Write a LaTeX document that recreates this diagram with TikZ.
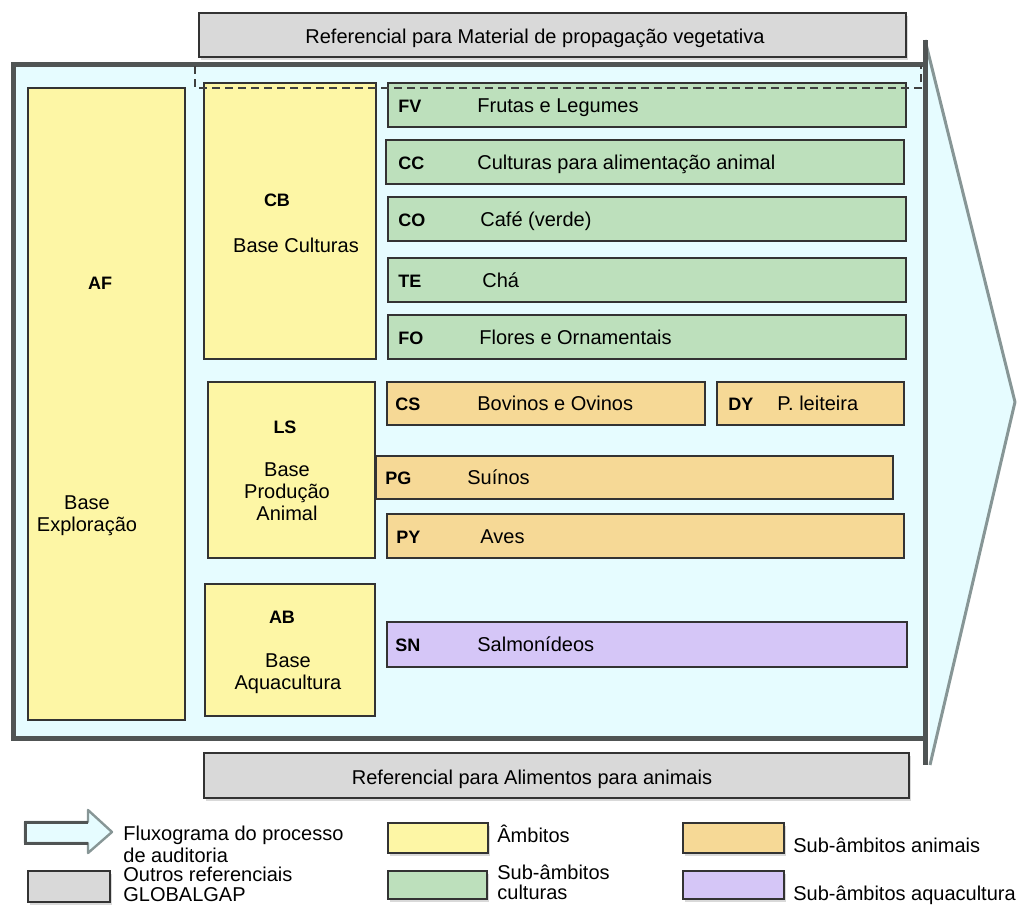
\documentclass[tikz,border=0pt]{standalone}
\usepackage{fontspec}
\setmainfont{Liberation Sans}
\usetikzlibrary{positioning,shadows}
\definecolor{bgc}{RGB}{230,252,255}
\definecolor{ylw}{RGB}{253,246,165}
\definecolor{grn}{RGB}{189,224,188}
\definecolor{org}{RGB}{246,217,150}
\definecolor{prp}{RGB}{213,198,247}
\definecolor{gry}{RGB}{217,217,217}
\definecolor{frm}{RGB}{80,84,84}
\definecolor{hdc}{RGB}{135,150,150}

\begin{document}
\begin{tikzpicture}[x=0.5pt, y=-0.5pt,
  font=\fontsize{10}{11}\selectfont,
  box/.style={draw=black!80, line width=0.7pt, inner sep=0pt},
  shd/.style={drop shadow={opacity=0.3, shadow xshift=1pt, shadow yshift=-1.5pt}},
  amb/.style={box, fill=ylw},
  sub/.style={box, minimum width=259pt, minimum height=22pt},
  ref/.style={box, shd, fill=gry, minimum height=22pt},
  leg/.style={box, shd, minimum width=50pt, minimum height=15pt},
  cod/.style={font=\fontsize{9}{10}\selectfont\bfseries, inner sep=0pt},
  lbl/.style={inner sep=0pt, align=center},
  lgt/.style={inner sep=0pt, align=left}]
\useasboundingbox (0,0) rectangle (1019,905);
% audit flow arrow
\draw[hdc, line width=1.5pt, fill=bgc, line join=round] (925,40) -- (1015,402) -- (930,765);
\node[draw=frm, line width=2.5pt, fill=bgc, minimum width=456pt, minimum height=337pt, shd] (frame) at (469,401) {};
\draw[frm, line width=2.5pt] (925,40) -- (925,765);
% other standards
\node[ref, minimum width=353.5pt] (pmv) at (552.5,35) {};
\node[lbl, anchor=base] (pmv-t) at (535,43) {Referencial para Material de propagação vegetativa};
\node[ref, minimum width=352.5pt, minimum height=22.5pt] (afa) at (556.5,775.5) {};
\node[lbl, anchor=base] (afa-t) at (532,784) {Referencial para Alimentos para animais};
% scopes
\node[amb, minimum width=78.5pt, minimum height=316pt] (AF) at (106.5,404) {};
\node[cod] (AF-c) at (100,283) {AF};
\node[lbl] (AF-t) at (87,516) {Base\\Exploração};
\node[amb, minimum width=86pt, minimum height=138pt] (CB) at (290,221) {};
\node[cod] (CB-c) at (277,200) {CB};
\node[lbl] (CB-t) at (296,245) {Base Culturas};
\node[amb, minimum width=83.5pt, minimum height=88pt] (LS) at (291.5,470) {};
\node[cod] (LS-c) at (285,427) {LS};
\node[lbl] (LS-t) at (287,492) {Base\\Produção\\Animal};
\node[amb, minimum width=85pt, minimum height=66pt] (AB) at (290,650) {};
\node[cod] (AB-c) at (282,617) {AB};
\node[lbl] (AB-t) at (288,674) {Base\\Aquacultura};
% crop sub-scopes
\foreach \c/\x/\y/\lx/\t in {FV/647/105/477/Frutas e Legumes, CC/645/162/477/Culturas para alimentação animal,
  CO/647/219/480/Café (verde), TE/647/280/482/Chá, FO/647/337/479/Flores e Ornamentais}{
  \node[sub, fill=grn] (\c) at (\x,\y) {};
  \node[cod, anchor=base west] (\c-c) at (398,\y+7) {\c};
  \node[lbl, anchor=base west] (\c-t) at (\lx,\y+7) {\t};
}
% livestock sub-scopes
\node[sub, fill=org, minimum width=159pt, minimum height=21.5pt] (CS) at (546,403.5) {};
\node[cod, anchor=base west] (CS-c) at (395,410.5) {CS};
\node[lbl, anchor=base west] (CS-t) at (477,410.5) {Bovinos e Ovinos};
\node[sub, fill=org, minimum width=93.5pt, minimum height=21.5pt] (DY) at (810.5,403.5) {};
\node[cod, anchor=base west] (DY-c) at (728,410.5) {DY};
\node[lbl, anchor=base west] (DY-t) at (777,410.5) {P. leiteira};
\node[sub, fill=org, minimum width=258.5pt, minimum height=21.5pt] (PG) at (634.5,477.5) {};
\node[cod, anchor=base west] (PG-c) at (385,484.5) {PG};
\node[lbl, anchor=base west] (PG-t) at (467,484.5) {Suínos};
\node[sub, fill=org, minimum width=258.5pt] (PY) at (645.5,536) {};
\node[cod, anchor=base west] (PY-c) at (396,543) {PY};
\node[lbl, anchor=base west] (PY-t) at (480,543) {Aves};
% aquaculture sub-scope
\node[sub, fill=prp, minimum width=260pt, minimum height=22.5pt] (SN) at (647,644.5) {};
\node[cod, anchor=base west] (SN-c) at (395,651.5) {SN};
\node[lbl, anchor=base west] (SN-t) at (477,651.5) {Salmonídeos};
% overlap with propagation material
\draw[black!75, line width=0.8pt, dash pattern=on 4pt off 2.5pt] (195,66) -- (195,88) -- (921,88) -- (921,66);
% legend
\draw[hdc, line width=1.2pt, fill=bgc, line join=round] (25,822) -- (88,822) -- (88,810) -- (112,832) -- (88,853) -- (88,843) -- (25,843) -- cycle;
\draw[frm, line width=1.5pt] (88,822) -- (25,822) -- (25,843) -- (88,843);
\node[lgt, anchor=west] (l-flx) at (123,844) {Fluxograma do processo\\de auditoria};
\node[leg, fill=gry, minimum width=41pt, minimum height=15.5pt] (l-gry) at (69,886.5) {};
\node[lgt, anchor=west, font=\fontsize{10}{10}\selectfont] (l-gry-t) at (123,884) {Outros referenciais\\GLOBALGAP};
\node[leg, fill=ylw] (l-ylw) at (438,838) {};
\node[lgt, anchor=base west] (l-ylw-t) at (497,842) {Âmbitos};
\node[leg, fill=grn, minimum width=49.5pt, minimum height=14pt] (l-grn) at (437.5,885) {};
\node[lgt, anchor=west, font=\fontsize{10}{10}\selectfont] (l-grn-t) at (497,882) {Sub-âmbitos\\culturas};
\node[leg, fill=org, minimum width=50.5pt] (l-org) at (733.5,838) {};
\node[lgt, anchor=base west] (l-org-t) at (793,852) {Sub-âmbitos animais};
\node[leg, fill=prp, minimum width=50.5pt, minimum height=14pt] (l-prp) at (733.5,885) {};
\node[lgt, anchor=base west] (l-prp-t) at (793,900) {Sub-âmbitos aquacultura};
\end{tikzpicture}
\end{document}
